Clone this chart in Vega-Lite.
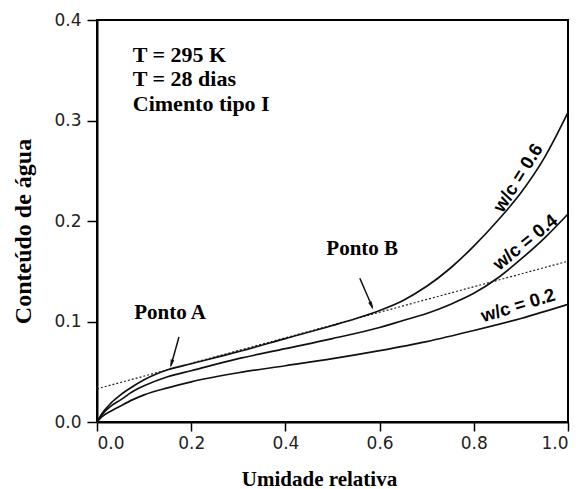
{
  "$schema": "https://vega.github.io/schema/vega-lite/v6.json",
  "width": 471,
  "height": 402,
  "autosize": {"type": "none"},
  "padding": {"left": 97, "top": 20, "right": 8, "bottom": 67},
  "background": "white",
  "config": {
    "view": {"stroke": "black", "strokeWidth": 2},
    "axis": {
      "grid": false,
      "domainColor": "black",
      "domainWidth": 2,
      "tickColor": "black",
      "tickWidth": 1.5,
      "labelFont": "DejaVu Sans",
      "labelFontSize": 17,
      "labelColor": "#222",
      "titleFont": "Liberation Serif",
      "titleFontWeight": "bold",
      "titleColor": "black"
    }
  },
  "datasets": {
    "curves": [
      {"x": 0, "y": 0, "wc": "0.6"},
      {"x": 0.01, "y": 0.008, "wc": "0.6"},
      {"x": 0.03, "y": 0.019, "wc": "0.6"},
      {"x": 0.05, "y": 0.027, "wc": "0.6"},
      {"x": 0.075, "y": 0.035, "wc": "0.6"},
      {"x": 0.1, "y": 0.042, "wc": "0.6"},
      {"x": 0.15, "y": 0.052, "wc": "0.6"},
      {"x": 0.2, "y": 0.058, "wc": "0.6"},
      {"x": 0.3, "y": 0.070, "wc": "0.6"},
      {"x": 0.4, "y": 0.083, "wc": "0.6"},
      {"x": 0.5, "y": 0.096, "wc": "0.6"},
      {"x": 0.55, "y": 0.103, "wc": "0.6"},
      {"x": 0.6, "y": 0.111, "wc": "0.6"},
      {"x": 0.65, "y": 0.121, "wc": "0.6"},
      {"x": 0.7, "y": 0.135, "wc": "0.6"},
      {"x": 0.75, "y": 0.153, "wc": "0.6"},
      {"x": 0.8, "y": 0.175, "wc": "0.6"},
      {"x": 0.85, "y": 0.200, "wc": "0.6"},
      {"x": 0.9, "y": 0.228, "wc": "0.6"},
      {"x": 0.95, "y": 0.263, "wc": "0.6"},
      {"x": 1.0, "y": 0.308, "wc": "0.6"},
      {"x": 0, "y": 0, "wc": "0.4"},
      {"x": 0.01, "y": 0.007, "wc": "0.4"},
      {"x": 0.03, "y": 0.016, "wc": "0.4"},
      {"x": 0.05, "y": 0.022, "wc": "0.4"},
      {"x": 0.075, "y": 0.030, "wc": "0.4"},
      {"x": 0.1, "y": 0.036, "wc": "0.4"},
      {"x": 0.15, "y": 0.045, "wc": "0.4"},
      {"x": 0.2, "y": 0.051, "wc": "0.4"},
      {"x": 0.3, "y": 0.063, "wc": "0.4"},
      {"x": 0.4, "y": 0.073, "wc": "0.4"},
      {"x": 0.5, "y": 0.083, "wc": "0.4"},
      {"x": 0.6, "y": 0.094, "wc": "0.4"},
      {"x": 0.65, "y": 0.101, "wc": "0.4"},
      {"x": 0.7, "y": 0.108, "wc": "0.4"},
      {"x": 0.75, "y": 0.117, "wc": "0.4"},
      {"x": 0.8, "y": 0.128, "wc": "0.4"},
      {"x": 0.85, "y": 0.143, "wc": "0.4"},
      {"x": 0.9, "y": 0.162, "wc": "0.4"},
      {"x": 0.95, "y": 0.183, "wc": "0.4"},
      {"x": 1.0, "y": 0.207, "wc": "0.4"},
      {"x": 0, "y": 0, "wc": "0.2"},
      {"x": 0.01, "y": 0.005, "wc": "0.2"},
      {"x": 0.03, "y": 0.011, "wc": "0.2"},
      {"x": 0.05, "y": 0.016, "wc": "0.2"},
      {"x": 0.075, "y": 0.022, "wc": "0.2"},
      {"x": 0.1, "y": 0.027, "wc": "0.2"},
      {"x": 0.15, "y": 0.034, "wc": "0.2"},
      {"x": 0.2, "y": 0.040, "wc": "0.2"},
      {"x": 0.3, "y": 0.049, "wc": "0.2"},
      {"x": 0.4, "y": 0.056, "wc": "0.2"},
      {"x": 0.5, "y": 0.063, "wc": "0.2"},
      {"x": 0.6, "y": 0.071, "wc": "0.2"},
      {"x": 0.7, "y": 0.080, "wc": "0.2"},
      {"x": 0.8, "y": 0.091, "wc": "0.2"},
      {"x": 0.9, "y": 0.103, "wc": "0.2"},
      {"x": 1.0, "y": 0.117, "wc": "0.2"}
    ],
    "tangent": [
      {"x": 0, "y": 0.033},
      {"x": 1.0, "y": 0.160}
    ],
    "notes": [
      {"x": 0.076, "y": 0.365, "label": "T = 295 K", "kind": "info"},
      {"x": 0.076, "y": 0.341, "label": "T = 28 dias", "kind": "info"},
      {"x": 0.076, "y": 0.316, "label": "Cimento tipo I", "kind": "info"},
      {"x": 0.155, "y": 0.108, "label": "Ponto A", "kind": "ponto"},
      {"x": 0.563, "y": 0.172, "label": "Ponto B", "kind": "ponto"},
      {"x": 0.894, "y": 0.243, "label": "w/c = 0.6", "kind": "c6"},
      {"x": 0.909, "y": 0.179, "label": "w/c = 0.4", "kind": "c4"},
      {"x": 0.894, "y": 0.116, "label": "w/c = 0.2", "kind": "c2"}
    ],
    "arrows": [
      {"x": 0.174, "y": 0.0846, "x2": 0.157, "y2": 0.056, "hx": 0.158, "hy": 0.058, "name": "A"},
      {"x": 0.558, "y": 0.143, "x2": 0.585, "y2": 0.114, "hx": 0.583, "hy": 0.1155, "name": "B"}
    ]
  },
  "layer": [
    {
      "data": {"name": "tangent"},
      "mark": {"type": "line", "color": "#222", "strokeWidth": 1.2, "strokeDash": [2, 2]},
      "encoding": {
        "x": {"field": "x", "type": "quantitative", "scale": {"domain": [0, 1]},
          "axis": {"values": [0, 0.2, 0.4, 0.6, 0.8, 1.0], "format": ".1f", "tickSize": 9, "labelPadding": 4,
            "title": "Umidade relativa", "titleFontSize": 21, "titleBaseline": "alphabetic", "titleX": 222, "titleY": 63, "titleAlign": "center"}},
        "y": {"field": "y", "type": "quantitative", "scale": {"domain": [0, 0.4]},
          "axis": {"values": [0, 0.1, 0.2, 0.3, 0.4], "format": ".1f", "tickSize": 10, "labelPadding": 6,
            "title": "Conteúdo de água", "titleFontSize": 24, "titleAngle": -90, "titleBaseline": "middle", "titleX": -74, "titleY": 211, "titleAlign": "center"}}
      }
    },
    {
      "data": {"name": "curves"},
      "mark": {"type": "line", "color": "#111", "strokeWidth": 1.7, "interpolate": "monotone"},
      "encoding": {
        "x": {"field": "x", "type": "quantitative"},
        "y": {"field": "y", "type": "quantitative"},
        "detail": {"field": "wc", "type": "nominal"}
      }
    },
    {
      "data": {"name": "arrows"},
      "mark": {"type": "rule", "color": "#111", "strokeWidth": 1.5},
      "encoding": {
        "x": {"field": "x", "type": "quantitative"},
        "y": {"field": "y", "type": "quantitative"},
        "x2": {"field": "x2"},
        "y2": {"field": "y2"}
      }
    },
    {
      "data": {"name": "arrows"},
      "transform": [{"filter": "datum.name === 'A'"}],
      "mark": {"type": "point", "shape": "M0,-1L0.45,1L-0.45,1Z", "filled": true, "color": "#111", "size": 70, "angle": 195, "opacity": 1},
      "encoding": {
        "x": {"field": "hx", "type": "quantitative"},
        "y": {"field": "hy", "type": "quantitative"}
      }
    },
    {
      "data": {"name": "arrows"},
      "transform": [{"filter": "datum.name === 'B'"}],
      "mark": {"type": "point", "shape": "M0,-1L0.45,1L-0.45,1Z", "filled": true, "color": "#111", "size": 70, "angle": 157, "opacity": 1},
      "encoding": {
        "x": {"field": "hx", "type": "quantitative"},
        "y": {"field": "hy", "type": "quantitative"}
      }
    },
    {
      "data": {"name": "notes"},
      "transform": [{"filter": "datum.kind === 'info'"}],
      "mark": {"type": "text", "font": "Liberation Serif", "fontWeight": "bold", "fontSize": 22, "align": "left", "baseline": "middle", "color": "black"},
      "encoding": {
        "x": {"field": "x", "type": "quantitative"},
        "y": {"field": "y", "type": "quantitative"},
        "text": {"field": "label"}
      }
    },
    {
      "data": {"name": "notes"},
      "transform": [{"filter": "datum.kind === 'ponto'"}],
      "mark": {"type": "text", "font": "Liberation Serif", "fontWeight": "bold", "fontSize": 21, "align": "center", "baseline": "middle", "color": "black"},
      "encoding": {
        "x": {"field": "x", "type": "quantitative"},
        "y": {"field": "y", "type": "quantitative"},
        "text": {"field": "label"}
      }
    },
    {
      "data": {"name": "notes"},
      "transform": [{"filter": "datum.kind === 'c6'"}],
      "mark": {"type": "text", "font": "Liberation Sans", "fontWeight": "bold", "fontSize": 18.5, "align": "center", "baseline": "middle", "angle": -58, "color": "black"},
      "encoding": {
        "x": {"field": "x", "type": "quantitative"},
        "y": {"field": "y", "type": "quantitative"},
        "text": {"field": "label"}
      }
    },
    {
      "data": {"name": "notes"},
      "transform": [{"filter": "datum.kind === 'c4'"}],
      "mark": {"type": "text", "font": "Liberation Sans", "fontWeight": "bold", "fontSize": 18.5, "align": "center", "baseline": "middle", "angle": -39, "color": "black"},
      "encoding": {
        "x": {"field": "x", "type": "quantitative"},
        "y": {"field": "y", "type": "quantitative"},
        "text": {"field": "label"}
      }
    },
    {
      "data": {"name": "notes"},
      "transform": [{"filter": "datum.kind === 'c2'"}],
      "mark": {"type": "text", "font": "Liberation Sans", "fontWeight": "bold", "fontSize": 18.5, "align": "center", "baseline": "middle", "angle": -17, "color": "black"},
      "encoding": {
        "x": {"field": "x", "type": "quantitative"},
        "y": {"field": "y", "type": "quantitative"},
        "text": {"field": "label"}
      }
    }
  ]
}
